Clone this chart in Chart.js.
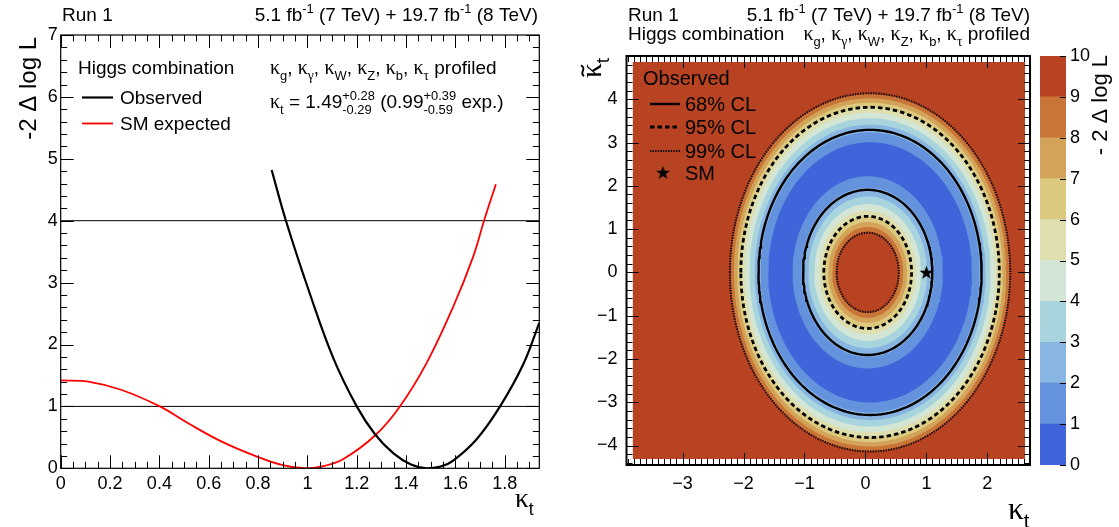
<!DOCTYPE html>
<html>
<head>
<meta charset="utf-8">
<script src="https://cdn.jsdelivr.net/npm/chart.js@4.4.0/dist/chart.umd.min.js"></script>
<style>
  html, body { margin: 0; padding: 0; background: #fff; }
  #wrap { position: relative; width: 1119px; height: 527px; overflow: hidden; }
  canvas { position: absolute; top: 0; }
</style>
</head>
<body>
<div id="wrap">
  <canvas id="left" width="560" height="527" style="left:0;width:560px;height:527px"></canvas>
  <canvas id="right" width="478" height="527" style="left:560px;width:478px;height:527px"></canvas>
  <canvas id="bar" width="83" height="527" style="left:1036px;width:83px;height:527px"></canvas>
</div>
<script>
// ---- left panel: 1D scan of kappa_t
var obsX = [0.855, 0.913, 1.01, 1.105, 1.2, 1.274, 1.349, 1.42, 1.483, 1.54, 1.591, 1.686, 1.781, 1.875, 1.94];
var obsY = [4.82, 4.0, 2.82, 1.78, 1.0, 0.55, 0.24, 0.06, 0.0, 0.03, 0.125, 0.47, 1.0, 1.68, 2.35];
var expX = [0.0, 0.112, 0.247, 0.402, 0.517, 0.653, 0.788, 0.9, 0.997, 1.07, 1.146, 1.274, 1.375, 1.483, 1.591, 1.672, 1.716, 1.764];
var expY = [1.42, 1.40, 1.265, 1.0, 0.727, 0.43, 0.2, 0.05, 0.0, 0.04, 0.15, 0.53, 1.0, 1.70, 2.61, 3.42, 4.0, 4.59];
var hLines = [1, 4];
var xTicksL = [0, 0.2, 0.4, 0.6, 0.8, 1, 1.2, 1.4, 1.6, 1.8];
var yTicksL = [0, 1, 2, 3, 4, 5, 6, 7];

// ---- right panel: 2D scan (kappa_t, kappa_t tilde), ring shaped contours
var zLevels = [0, 1, 2, 3, 4, 5, 6, 7, 8, 9, 10];
var zColors = ['#4064d9', '#6492dd', '#88b5e2', '#a8d4dd', '#d3e6d5', '#dedeaf', '#dbc980', '#d3a35a', '#c97538', '#b84323'];
var bandLevels = [1, 2, 3, 4, 5, 6, 7, 8, 9];
var outerA = [1.671, 1.798, 1.897, 1.979, 2.052, 2.118, 2.179, 2.235, 2.288];
var innerA = [1.234, 1.087, 0.974, 0.878, 0.794, 0.718, 0.648, 0.583, 0.522];
var outerCx = 0.076, innerCx = 0.037, ringCy = 0, aspect = 1.8;
var clLabels = ['68% CL', '95% CL', '99% CL'];
var clOuterA = [1.83, 2.12, 2.30];
var clInnerA = [1.06, 0.72, 0.51];
var smPoint = [1, 0];
var fillX = [-3.82, 2.62], fillY = [-4.31, 4.86];
var xTicksR = [-3, -2, -1, 0, 1, 2];
var yTicksR = [-4, -3, -2, -1, 0, 1, 2, 3, 4];

var SANS = '"Liberation Sans", Arial, Helvetica, sans-serif';
var SERIF = '"Liberation Serif", "Times New Roman", serif';

function partFont(kind, size) {
  if (kind === 'g') return (size * 1.05) + 'px ' + SERIF;
  if (kind === 'gsub') return (size * 0.72) + 'px ' + SERIF;
  if (kind === 'n') return size + 'px ' + SANS;
  return (size * 0.68) + 'px ' + SANS;
}

// text with sub/superscripts
function rich(ctx, x, y, parts, size, align) {
  ctx.save();
  ctx.textBaseline = 'alphabetic';
  ctx.textAlign = 'left';
  ctx.fillStyle = '#000';
  var widths = parts.map(function (p) {
    ctx.font = partFont(p[1], size);
    if (p[1] === 'ss') return Math.max(ctx.measureText(p[0][0]).width, ctx.measureText(p[0][1]).width);
    return ctx.measureText(p[0]).width;
  });
  var total = widths.reduce(function (s, w) { return s + w; }, 0);
  var cx = align === 'right' ? x - total : (align === 'center' ? x - total / 2 : x);
  var starts = [];
  parts.forEach(function (p, i) {
    var k = p[1];
    starts.push(cx);
    ctx.font = partFont(k, size);
    if (k === 'ss') {
      ctx.fillText(p[0][0], cx, y - size * 0.42);
      ctx.fillText(p[0][1], cx, y + size * 0.32);
    } else {
      var dy = (k === 'sub' || k === 'gsub') ? size * 0.3 : (k === 'sup' ? -size * 0.42 : 0);
      ctx.fillText(p[0], cx, y + dy);
    }
    cx += widths[i];
  });
  ctx.restore();
  return { starts: starts, widths: widths };
}

var lumiParts = [['5.1 fb', 'n'], ['-1', 'sup'], [' (7 TeV) + 19.7 fb', 'n'], ['-1', 'sup'], [' (8 TeV)', 'n']];
var profParts = [['\u03ba', 'g'], ['g', 'sub'], [', ', 'n'], ['\u03ba', 'g'], ['\u03b3', 'gsub'], [', ', 'n'],
  ['\u03ba', 'g'], ['W', 'sub'], [', ', 'n'], ['\u03ba', 'g'], ['Z', 'sub'], [', ', 'n'],
  ['\u03ba', 'g'], ['b', 'sub'], [', ', 'n'], ['\u03ba', 'g'], ['\u03c4', 'gsub'], [' profiled', 'n']];
var resParts = [['\u03ba', 'g'], ['t', 'sub'], [' = 1.49', 'n'], [['+0.28', '-0.29'], 'ss'], [' (0.99', 'n'],
  [['+0.39', '-0.59'], 'ss'], [' exp.)', 'n']];

// inward ticks + frame, ROOT style
function isMajor(v, step) {
  var r = v / step;
  return Math.abs(r - Math.round(r)) < 1e-6;
}
var frameTicks = {
  id: 'frameTicks',
  afterDatasetsDraw: function (chart, args, o) {
    var a = chart.chartArea, ctx = chart.ctx, xs = chart.scales.x, ys = chart.scales.y;
    ctx.save();
    ctx.strokeStyle = '#000';
    ctx.lineWidth = 1;
    ctx.beginPath();
    var n, v, p, len;
    for (n = Math.ceil(xs.min / o.xStep - 1e-6); n <= Math.floor(xs.max / o.xStep + 1e-6); n++) {
      v = n * o.xStep;
      p = Math.round(xs.getPixelForValue(v)) + 0.5;
      len = isMajor(v, o.xMajor) ? o.major : o.minor;
      ctx.moveTo(p, a.bottom); ctx.lineTo(p, a.bottom - len);
      ctx.moveTo(p, a.top); ctx.lineTo(p, a.top + len);
    }
    for (n = Math.ceil(ys.min / o.yStep - 1e-6); n <= Math.floor(ys.max / o.yStep + 1e-6); n++) {
      v = n * o.yStep;
      p = Math.round(ys.getPixelForValue(v)) + 0.5;
      len = isMajor(v, o.yMajor) ? o.major : o.minor;
      ctx.moveTo(a.left, p); ctx.lineTo(a.left + len, p);
      ctx.moveTo(a.right, p); ctx.lineTo(a.right - len, p);
    }
    ctx.stroke();
    ctx.lineWidth = o.width;
    ctx.strokeRect(a.left, a.top, a.right - a.left, a.bottom - a.top);
    ctx.restore();
  }
};

function tickFont(size) { return { family: SANS, size: size }; }
function fixTicks(list) { return function (s) { s.ticks = list.map(function (v) { return { value: v }; }); }; }
function fmt(v) {
  var r = Math.round(v * 10) / 10;
  return r < 0 ? '\u2212' + Math.abs(r) : String(r);
}
function pts(xs, ys) { return xs.map(function (x, i) { return { x: x, y: ys[i] }; }); }

// ---------------- left chart
var dsL = [
  { data: pts(obsX, obsY), borderColor: '#000', borderWidth: 2.2, tension: 0.4 },
  { data: pts(expX, expY), borderColor: '#ff0000', borderWidth: 1.8, tension: 0.4 }
];
hLines.forEach(function (h) {
  dsL.push({ data: [{ x: 0, y: h }, { x: 1.94, y: h }], borderColor: '#000', borderWidth: 1, tension: 0 });
});
dsL.forEach(function (d) {
  d.showLine = true; d.pointRadius = 0; d.fill = false;
});

new Chart(document.getElementById('left'), {
  type: 'scatter',
  data: { datasets: dsL },
  options: {
    responsive: false, animation: false, devicePixelRatio: 1,
    layout: { padding: { left: 0, right: 20.7, top: 35, bottom: 0 } },
    plugins: {
      legend: { display: false }, tooltip: { enabled: false },
      frameTicks: { xStep: 0.05, xMajor: 0.2, yStep: 0.2, yMajor: 1, major: 13, minor: 6.5, width: 1.2 }
    },
    scales: {
      x: {
        type: 'linear', min: 0, max: 1.94,
        afterBuildTicks: fixTicks(xTicksL), afterFit: function (s) { s.height = 58.7; },
        grid: { display: false, drawTicks: false }, border: { display: false },
        ticks: { font: tickFont(18), color: '#000', padding: 5, autoSkip: false, maxRotation: 0, callback: fmt }
      },
      y: {
        min: 0, max: 7,
        afterBuildTicks: fixTicks(yTicksL), afterFit: function (s) { s.width = 60.7; },
        grid: { display: false, drawTicks: false }, border: { display: false },
        ticks: { font: tickFont(18), color: '#000', padding: 3, autoSkip: false, callback: fmt }
      }
    }
  },
  plugins: [frameTicks, {
    id: 'leftText',
    afterDraw: function (chart) {
      var ctx = chart.ctx;
      rich(ctx, 62, 21, [['Run 1', 'n']], 19, 'left');
      rich(ctx, 538, 21, lumiParts, 19, 'right');
      rich(ctx, 78, 74, [['Higgs combination', 'n']], 19, 'left');
      rich(ctx, 270, 74, profParts, 19, 'left');
      rich(ctx, 270, 108, resParts, 19, 'left');
      ctx.save();
      ctx.lineWidth = 2.2; ctx.strokeStyle = '#000';
      ctx.beginPath(); ctx.moveTo(82, 97.5); ctx.lineTo(113, 97.5); ctx.stroke();
      ctx.lineWidth = 1.8; ctx.strokeStyle = '#ff0000';
      ctx.beginPath(); ctx.moveTo(82, 123.5); ctx.lineTo(113, 123.5); ctx.stroke();
      ctx.restore();
      rich(ctx, 120, 104, [['Observed', 'n']], 19, 'left');
      rich(ctx, 120, 130, [['SM expected', 'n']], 19, 'left');
      rich(ctx, 515, 507, [['\u03ba', 'g'], ['t', 'sub']], 26, 'left');
      ctx.save();
      ctx.translate(29, 37);
      ctx.rotate(-Math.PI / 2);
      ctx.font = '24px ' + SANS; ctx.fillStyle = '#000';
      ctx.textAlign = 'right'; ctx.textBaseline = 'middle';
      ctx.fillText('-2 \u0394 log L', 0, 0);
      ctx.restore();
    }
  }]
});

// ---------------- right chart
var dsR = [];
function addFill(up, lo, color) {
  dsR.push({ data: up, borderColor: 'rgba(0,0,0,0)', borderWidth: 0, fill: false });
  dsR.push({ data: lo, borderColor: 'rgba(0,0,0,0)', borderWidth: 0, fill: dsR.length - 1, backgroundColor: color });
}
function ellipseHalves(cx, a, color) {
  var up = [], lo = [], b = a * aspect;
  for (var k = 0; k <= 90; k++) {
    var t = Math.PI * k / 90;
    up.push({ x: cx - a * Math.cos(t), y: ringCy + b * Math.sin(t) });
    lo.push({ x: cx - a * Math.cos(t), y: ringCy - b * Math.sin(t) });
  }
  addFill(up, lo, color);
}
function ellipseLine(cx, a, dash, width) {
  var d = [], b = a * aspect;
  for (var k = 0; k <= 180; k++) {
    var t = 2 * Math.PI * k / 180;
    d.push({ x: cx - a * Math.cos(t), y: ringCy + b * Math.sin(t) });
  }
  dsR.push({ data: d, borderColor: '#000', borderWidth: width, borderDash: dash, borderCapStyle: 'butt', fill: false });
}
// background (highest band)
addFill([{ x: fillX[0], y: fillY[1] }, { x: fillX[1], y: fillY[1] }],
        [{ x: fillX[0], y: fillY[0] }, { x: fillX[1], y: fillY[0] }], zColors[9]);
for (var i = bandLevels.length - 1; i >= 0; i--) ellipseHalves(outerCx, outerA[i], zColors[bandLevels[i] - 1]);
for (i = 0; i < bandLevels.length; i++) ellipseHalves(innerCx, innerA[i], zColors[bandLevels[i]]);
var clDash = [[], [4.5, 3], [1.3, 1.3]];
var clWidth = [2.4, 2.8, 2];
for (i = 0; i < clLabels.length; i++) {
  ellipseLine(outerCx, clOuterA[i], clDash[i], clWidth[i]);
  ellipseLine(innerCx, clInnerA[i], clDash[i], clWidth[i]);
}
var starImg = document.createElement('canvas');
starImg.width = 15; starImg.height = 15;
(function () {
  var c = starImg.getContext('2d');
  c.fillStyle = '#000';
  c.beginPath();
  for (var k = 0; k < 10; k++) {
    var r = k % 2 === 0 ? 7.3 : 2.9;
    var ang = -Math.PI / 2 + k * Math.PI / 5;
    c.lineTo(7.5 + r * Math.cos(ang), 8 + r * Math.sin(ang));
  }
  c.closePath();
  c.fill();
})();
dsR.push({ data: [{ x: smPoint[0], y: smPoint[1] }], pointStyle: starImg, pointRadius: 7, showLine: false });
dsR.forEach(function (d, j) {
  d.order = dsR.length - j;
  if (d.showLine === undefined) d.showLine = true;
  if (d.pointRadius === undefined) d.pointRadius = 0;
  d.tension = 0;
});

new Chart(document.getElementById('right'), {
  type: 'scatter',
  data: { datasets: dsR },
  options: {
    responsive: false, animation: false, devicePixelRatio: 1,
    layout: { padding: { left: 0, right: 2.4, top: 56, bottom: 0 } },
    plugins: {
      legend: { display: false }, tooltip: { enabled: false },
      frameTicks: { xStep: 0.1, xMajor: 1, yStep: 0.2, yMajor: 1, major: 12, minor: 6, width: 2 }
    },
    scales: {
      x: {
        type: 'linear', min: -3.92, max: 2.7,
        afterBuildTicks: fixTicks(xTicksR), afterFit: function (s) { s.height = 62; },
        grid: { display: false, drawTicks: false }, border: { display: false },
        ticks: { font: tickFont(18), color: '#000', padding: 8, autoSkip: false, maxRotation: 0, callback: fmt }
      },
      y: {
        min: -4.45, max: 5.0,
        afterBuildTicks: fixTicks(yTicksR), afterFit: function (s) { s.width = 66.5; },
        grid: { display: false, drawTicks: false }, border: { display: false },
        ticks: { font: tickFont(18), color: '#000', padding: 9, autoSkip: false, callback: fmt }
      }
    }
  },
  plugins: [frameTicks, {
    id: 'rightText',
    afterDraw: function (chart) {
      var ctx = chart.ctx, ox = 560;
      rich(ctx, 628 - ox, 21, [['Run 1', 'n']], 19, 'left');
      rich(ctx, 1030 - ox, 21, lumiParts, 19, 'right');
      rich(ctx, 628 - ox, 40, [['Higgs combination', 'n']], 19, 'left');
      rich(ctx, 1030 - ox, 40, profParts, 19, 'right');
      // legend
      rich(ctx, 643 - ox, 85, [['Observed', 'n']], 20, 'left');
      var ly = [104, 127, 151];
      ctx.save();
      ctx.strokeStyle = '#000';
      for (var k = 0; k < clLabels.length; k++) {
        ctx.lineWidth = clWidth[k];
        ctx.setLineDash(clDash[k]);
        ctx.beginPath(); ctx.moveTo(650 - ox, ly[k]); ctx.lineTo(680 - ox, ly[k]); ctx.stroke();
      }
      ctx.setLineDash([]);
      ctx.drawImage(starImg, 663 - ox - 7.5, 173 - 8);
      ctx.restore();
      for (k = 0; k < clLabels.length; k++) rich(ctx, 685 - ox, ly[k] + 7, [[clLabels[k], 'n']], 20, 'left');
      rich(ctx, 685 - ox, 180, [['SM', 'n']], 20, 'left');
      // axis titles
      rich(ctx, 1008 - ox, 519, [['\u03ba', 'g'], ['t', 'sub']], 30, 'left');
      ctx.save();
      ctx.translate(592 - ox, 58);
      ctx.rotate(-Math.PI / 2);
      var lay = rich(ctx, 0, 9, [['\u03ba', 'g'], ['t', 'sub']], 28, 'right');
      // tilde over kappa
      var tx = lay.starts[0] + 2, tw = lay.widths[0] - 4, ty = 9 - 28 * 0.66;
      ctx.strokeStyle = '#000'; ctx.lineWidth = 2;
      ctx.beginPath();
      ctx.moveTo(tx, ty + 1.5);
      ctx.bezierCurveTo(tx + tw * 0.3, ty - 4, tx + tw * 0.7, ty + 5, tx + tw, ty - 1.5);
      ctx.stroke();
      ctx.restore();
    }
  }]
});

// ---------------- colour scale
var barSets = [];
for (i = 0; i < zColors.length; i++) {
  barSets.push({ data: [zLevels[i + 1] - zLevels[i]], backgroundColor: zColors[i], borderWidth: 0,
    barPercentage: 1, categoryPercentage: 1 });
}
new Chart(document.getElementById('bar'), {
  type: 'bar',
  data: { labels: ['z'], datasets: barSets },
  options: {
    responsive: false, animation: false, devicePixelRatio: 1,
    layout: { padding: { left: 4, right: 0, top: 56, bottom: 62 } },
    plugins: { legend: { display: false }, tooltip: { enabled: false } },
    scales: {
      x: { stacked: true, display: false },
      y: {
        stacked: true, position: 'right', min: 0, max: 10,
        afterBuildTicks: fixTicks(zLevels), afterFit: function (s) { s.width = 53; },
        grid: { display: false, drawTicks: false }, border: { display: false },
        ticks: { font: tickFont(18), color: '#000', padding: 4, autoSkip: false, callback: fmt }
      }
    }
  },
  plugins: [{
    id: 'barText',
    afterDraw: function (chart) {
      var ctx = chart.ctx, a = chart.chartArea, ys = chart.scales.y;
      ctx.save();
      ctx.strokeStyle = '#000'; ctx.lineWidth = 1;
      ctx.beginPath();
      zLevels.forEach(function (v) {
        var p = Math.round(ys.getPixelForValue(v)) + 0.5;
        ctx.moveTo(a.right, p); ctx.lineTo(a.right - 6, p);
      });
      ctx.stroke();
      ctx.translate(1101 - 1036, 55);
      ctx.rotate(-Math.PI / 2);
      ctx.font = '22px ' + SANS; ctx.fillStyle = '#000';
      ctx.textAlign = 'right'; ctx.textBaseline = 'middle';
      ctx.fillText('- 2 \u0394 log L', 0, 0);
      ctx.restore();
    }
  }]
});
</script>
</body>
</html>
